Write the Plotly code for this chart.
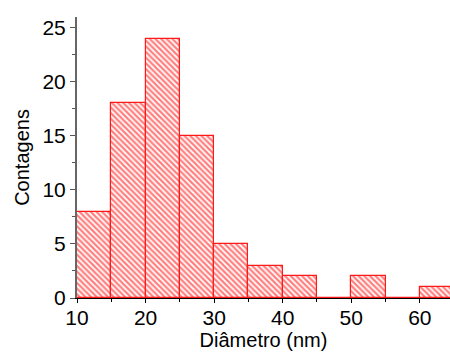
import plotly.graph_objects as go

# Particle size histogram: bin left edges (nm) and counts per 5 nm bin
bin_left = [10, 15, 20, 25, 30, 35, 40, 45, 50, 55, 60]
counts = [8, 18, 24, 15, 5, 3, 2, 0, 2, 0, 1]
bin_width = 5

x_ticks = [10, 20, 30, 40, 50, 60]
y_ticks = [0, 5, 10, 15, 20, 25]

fig = go.Figure(
    go.Bar(
        x=bin_left,
        y=counts,
        width=bin_width,
        offset=0,
        marker=dict(
            color="white",
            line=dict(color="#ff1a1a", width=1.2),
            pattern=dict(shape="\\", fgcolor="#ff0000", bgcolor="white",
                         size=4, solidity=0.55, fillmode="overlay"),
        ),
        hoverinfo="x+y",
    )
)

tick_font = dict(family="Liberation Sans, Arial, sans-serif", size=21, color="black")
title_font = dict(family="Liberation Sans, Arial, sans-serif", size=20, color="black")

fig.update_layout(
    width=450,
    height=356,
    margin=dict(l=77, r=0, t=17, b=58),
    paper_bgcolor="white",
    plot_bgcolor="white",
    showlegend=False,
    bargap=0,
    font=tick_font,
    xaxis=dict(
        range=[10, 64.4],
        tickvals=x_ticks,
        ticks="outside",
        ticklen=4,
        tickwidth=1,
        tickcolor="black",
        ticklabelstandoff=-3,
        showline=True,
        linecolor="black",
        linewidth=1,
        showgrid=False,
        zeroline=False,
        minor=dict(dtick=5, tick0=10, ticks="outside", ticklen=3, tickcolor="black", showgrid=False),
        title=dict(text="Diâmetro (nm)", font=title_font, standoff=0),
        tickfont=tick_font,
    ),
    yaxis=dict(
        range=[0, 26],
        tickvals=y_ticks,
        ticks="outside",
        ticklen=5,
        tickwidth=1,
        tickcolor="#555555",
        showline=True,
        linecolor="#666666",
        linewidth=2,
        showgrid=False,
        zeroline=False,
        minor=dict(dtick=2.5, tick0=0, ticks="outside", ticklen=3, tickcolor="#555555", showgrid=False),
        title=dict(text="Contagens", font=title_font, standoff=7),
        tickfont=tick_font,
    ),
)

fig.write_html("out.html")
